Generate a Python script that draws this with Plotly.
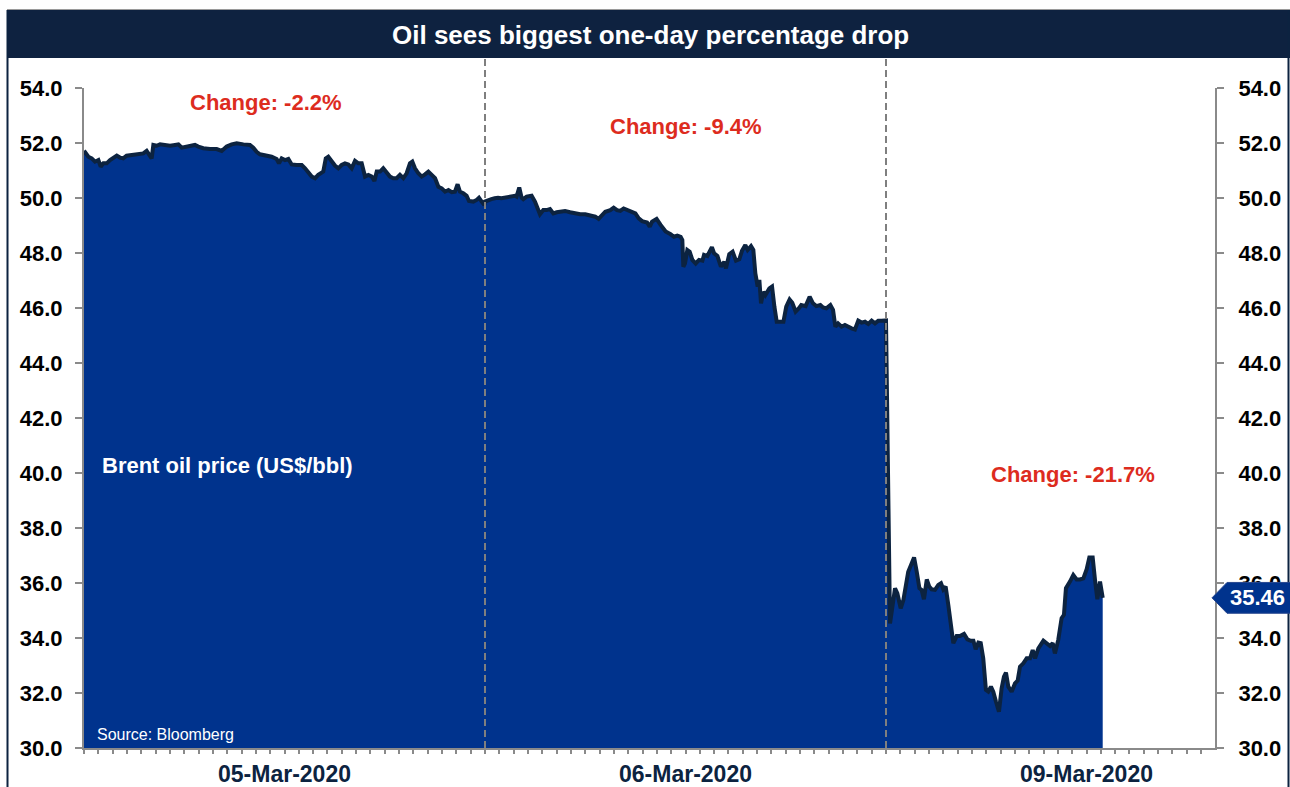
import plotly.graph_objects as go

# ---------------- data (hours into each trading session, Brent price) ----------------
day_labels = ["05-Mar-2020", "06-Mar-2020", "09-Mar-2020"]

day1_hours = [0.00, 0.26, 0.46, 0.66, 0.86, 1.00, 1.16, 1.36, 1.56, 1.76, 1.96, 2.15, 2.35, 2.55, 2.75,
              2.95, 3.25, 3.55, 3.75, 3.95, 4.05, 4.15, 4.35, 4.55, 4.85, 5.15, 5.45, 5.65, 5.85, 6.14,
              6.44, 6.64, 6.84, 7.14, 7.54, 7.94, 8.24, 8.54, 8.84, 9.14, 9.54, 9.93, 10.13, 10.33, 10.53,
              10.93, 11.23, 11.53, 11.67, 11.83, 12.03, 12.23, 12.43, 12.73, 13.03, 13.23, 13.43, 13.63,
              13.83, 14.02, 14.32, 14.47, 14.62, 14.82, 15.02, 15.22, 15.42, 15.62, 15.82, 16.02, 16.22,
              16.42, 16.62, 16.82, 17.02, 17.22, 17.38, 17.52, 17.72, 17.91, 18.11, 18.31, 18.51, 18.71,
              18.91, 19.11, 19.31, 19.51, 19.65, 19.81, 20.01, 20.21, 20.41, 20.61, 20.81, 21.01, 21.21,
              21.41, 21.61, 21.81, 22.01, 22.20, 22.36, 22.50, 22.70, 22.90, 23.04, 23.30, 23.50, 23.64,
              23.80, 23.96]
day1_price = [51.72, 51.50, 51.44, 51.32, 51.38, 51.14, 51.26, 51.26, 51.38, 51.47, 51.54, 51.47, 51.44,
              51.54, 51.56, 51.59, 51.60, 51.62, 51.71, 51.56, 51.44, 51.93, 51.90, 51.95, 51.93, 51.90,
              51.93, 51.95, 51.83, 51.87, 51.90, 51.93, 51.87, 51.81, 51.78, 51.78, 51.71, 51.87, 51.95,
              51.99, 51.95, 51.93, 51.83, 51.68, 51.59, 51.54, 51.50, 51.42, 51.26, 51.44, 51.38, 51.42,
              51.22, 51.20, 51.20, 51.08, 50.90, 50.78, 50.72, 50.84, 50.96, 51.44, 51.50, 51.32, 51.18,
              51.08, 51.20, 51.26, 51.22, 51.08, 51.35, 51.26, 51.26, 50.78, 50.84, 50.78, 50.62, 50.96,
              50.96, 51.08, 50.90, 50.78, 50.72, 50.72, 50.84, 50.72, 50.90, 51.26, 51.32, 51.08, 50.90,
              50.78, 50.86, 50.96, 50.84, 50.72, 50.41, 50.35, 50.23, 50.29, 50.21, 50.23, 50.50, 50.23,
              50.17, 50.08, 49.89, 49.87, 49.93, 50.01, 49.87, 49.75]

day2_hours = [0.00, 0.18, 0.38, 0.58, 0.78, 0.98, 1.18, 1.38, 1.58, 1.79, 1.89, 2.05, 2.19, 2.29, 2.49,
              2.79, 2.99, 3.13, 3.29, 3.49, 3.69, 3.89, 4.09, 4.29, 4.53, 4.79, 5.09, 5.40, 5.70, 6.00,
              6.30, 6.60, 6.80, 7.00, 7.20, 7.50, 7.70, 7.90, 8.10, 8.30, 8.50, 8.80, 9.00, 9.20, 9.40,
              9.70, 9.86, 10.00, 10.27, 10.51, 10.81, 11.11, 11.31, 11.51, 11.71, 11.81, 11.87, 11.97,
              12.11, 12.25, 12.41, 12.61, 12.81, 13.01, 13.11, 13.31, 13.58, 13.71, 13.91, 14.12, 14.32,
              14.42, 14.62, 14.82, 15.02, 15.22, 15.38, 15.58, 15.72, 15.92, 16.06, 16.18, 16.32, 16.42,
              16.52, 16.66, 16.78, 17.02, 17.18, 17.32, 17.46, 17.66, 17.86, 18.03, 18.23, 18.39, 18.59,
              18.79, 18.93, 19.19, 19.43, 19.63, 19.83, 20.07, 20.23, 20.43, 20.67, 20.83, 20.97, 21.13,
              21.34, 21.54, 21.74, 21.94, 22.14, 22.34, 22.54, 22.74, 22.94, 23.14, 23.34, 23.54, 23.74,
              23.94]
day2_price = [49.87, 49.93, 49.96, 49.99, 50.01, 49.99, 50.01, 50.01, 50.05, 50.08, 50.05, 50.38, 50.01,
              49.96, 50.05, 50.08, 49.87, 49.68, 49.41, 49.56, 49.56, 49.60, 49.44, 49.48, 49.50, 49.53,
              49.48, 49.44, 49.41, 49.41, 49.36, 49.32, 49.24, 49.36, 49.50, 49.56, 49.65, 49.56, 49.53,
              49.62, 49.56, 49.50, 49.44, 49.26, 49.16, 49.11, 48.96, 49.14, 49.24, 49.02, 48.78, 48.68,
              48.59, 48.63, 48.59, 48.47, 47.50, 47.62, 48.11, 48.05, 47.75, 47.62, 47.75, 47.72, 47.93,
              47.89, 48.21, 47.99, 47.89, 47.50, 47.68, 47.44, 47.96, 48.05, 47.72, 47.77, 48.08, 48.29,
              48.11, 48.25, 48.11, 47.26, 46.78, 47.02, 46.17, 46.59, 46.47, 46.71, 46.78, 46.05, 45.50,
              45.50, 45.50, 46.05, 46.31, 46.19, 45.87, 45.99, 46.11, 46.07, 46.41, 46.17, 46.07, 46.11,
              46.02, 45.99, 46.11, 45.93, 45.32, 45.44, 45.32, 45.38, 45.30, 45.26, 45.22, 45.54, 45.47,
              45.50, 45.42, 45.54, 45.44, 45.54, 45.54, 45.54]

day3_hours = [0.00, 0.24, 0.40, 0.54, 0.68, 0.88, 1.04, 1.20, 1.33, 1.54, 1.68, 1.84, 2.00, 2.13, 2.27,
              2.44, 2.59, 2.73, 2.93, 3.13, 3.29, 3.43, 3.57, 3.73, 3.87, 4.03, 4.23, 4.43, 4.67, 4.87,
              5.07, 5.23, 5.37, 5.53, 5.67, 5.82, 5.98, 6.12, 6.28, 6.42, 6.58, 6.76, 6.92, 7.06, 7.18,
              7.32, 7.52, 7.72, 7.88, 8.02, 8.22, 8.42, 8.62, 8.78, 8.92, 9.12, 9.42, 9.62, 9.82, 9.98,
              10.11, 10.31, 10.51, 10.65, 10.77, 11.01, 11.21, 11.41, 11.61, 11.81, 12.01, 12.17, 12.37,
              12.51, 12.65, 12.81, 12.97]
day3_price = [45.55, 34.53, 35.38, 35.81, 35.62, 35.08, 35.38, 35.99, 36.41, 36.72, 36.93, 36.41, 35.81,
              35.75, 35.41, 36.13, 35.87, 35.77, 35.75, 35.93, 35.99, 35.77, 35.87, 35.20, 34.53, 33.81,
              34.07, 34.07, 34.15, 33.95, 33.90, 33.90, 33.59, 33.83, 33.81, 33.26, 32.11, 32.05, 32.23,
              32.05, 31.69, 31.32, 32.17, 32.59, 32.74, 32.23, 32.05, 32.35, 32.45, 32.96, 33.08, 33.26,
              33.26, 33.56, 33.26, 33.62, 33.90, 33.81, 33.71, 33.81, 33.44, 33.93, 34.72, 34.84, 35.81,
              36.05, 36.29, 36.13, 36.13, 36.17, 36.50, 36.93, 36.93, 36.11, 35.41, 36.05, 35.46]

day_changes = ["Change: -2.2%", "Change: -9.4%", "Change: -21.7%"]
last_price = 35.46
y_ticks = [30, 32, 34, 36, 38, 40, 42, 44, 46, 48, 50, 52, 54]

# ---------------- build continuous series: x = session index + hour/24 ----------------
xs, ys = [], []
for i, (hrs, prc) in enumerate([(day1_hours, day1_price), (day2_hours, day2_price), (day3_hours, day3_price)]):
    xs += [i + h / 24.0 for h in hrs]
    ys += prc

NAVY = "#0c2340"
FILL = "#00338d"
GREY = "#8a8a8a"
RED = "#dd2c1e"
FONT = "Liberation Sans, Arial, sans-serif"

W, H = 1290, 787
L, R, T, B = 84, 75, 88, 39
pw, ph = W - L - R, H - T - B


def px(xp):
    return (xp - L) / pw


def py(yp):
    return (H - B - yp) / ph


XMAX = (W - R - L) / 401.0

fig = go.Figure()
fig.add_trace(go.Scatter(
    x=xs, y=ys, mode="lines", fill="tozeroy", fillcolor=FILL,
    line=dict(color=NAVY, width=4), hoverinfo="skip", showlegend=False))
fig.add_trace(go.Scatter(
    x=[xs[-1]], y=[ys[-1]], mode="markers", marker=dict(opacity=0), yaxis="y2",
    hoverinfo="skip", showlegend=False))

tickfont = dict(family=FONT, size=22, color="black", weight="bold")

fig.update_layout(
    width=W, height=H, margin=dict(l=L, r=R, t=T, b=B, autoexpand=False),
    paper_bgcolor="white", plot_bgcolor="white", showlegend=False,
    xaxis=dict(
        range=[0, XMAX], showgrid=False, zeroline=False, automargin=False,
        showline=True, linecolor=GREY, linewidth=2,
        tickmode="array", tickvals=[0.5, 1.5, 2.5], ticktext=day_labels,
        ticks="outside", ticklen=4, tickcolor=GREY, tickwidth=1.5,
        tickfont=dict(family=FONT, size=23, color=NAVY, weight="bold"),
        ticklabelstandoff=0,
        minor=dict(dtick=1 / 28, tick0=0, ticks="outside", ticklen=4, tickcolor=GREY, tickwidth=1.5,
                   showgrid=False),
    ),
    yaxis=dict(
        range=[30, 54], tickvals=y_ticks, tickformat=".1f", showgrid=False, zeroline=False,
        automargin=False, showline=True, linecolor=GREY, linewidth=2,
        ticks="outside", ticklen=7, tickcolor=GREY, tickwidth=1.5,
        tickfont=tickfont, ticklabelstandoff=8,
    ),
    yaxis2=dict(
        range=[30, 54], tickvals=y_ticks, tickformat=".1f", overlaying="y", side="right",
        showgrid=False, zeroline=False, automargin=False, showline=True, linecolor=GREY, linewidth=2,
        ticks="outside", ticklen=7, tickcolor=GREY, tickwidth=1.5,
        tickfont=tickfont, ticklabelstandoff=10,
    ),
)

shapes = []
# title bar
shapes.append(dict(type="rect", xref="paper", yref="paper", x0=px(7), x1=px(1295), y0=py(58), y1=py(10),
                   fillcolor="#0e2240", line=dict(width=0), layer="above"))
# top thin grey line
shapes.append(dict(type="line", xref="paper", yref="paper", x0=px(7), x1=px(1295), y0=py(9.5), y1=py(9.5),
                   line=dict(color="#9a9a9a", width=1)))
# left frame line
shapes.append(dict(type="line", xref="paper", yref="paper", x0=px(7.5), x1=px(7.5), y0=py(790), y1=py(10),
                   line=dict(color=NAVY, width=2)))
# right frame line
shapes.append(dict(type="line", xref="paper", yref="paper", x0=px(1288.5), x1=px(1288.5), y0=py(790), y1=py(10),
                   line=dict(color=NAVY, width=2)))
# session separators
for d in (1, 2):
    shapes.append(dict(type="line", xref="x", yref="paper", x0=d, x1=d, y0=0, y1=py(58),
                       line=dict(color="#7f7f7f", width=2, dash="7px,4px"), layer="above"))
# last-price arrow box
tip, bl, br = px(1212), px(1227), px(1295)
hh = 0.56
shapes.append(dict(type="path", xref="paper", yref="y",
                   path=f"M {tip},{last_price} L {bl},{last_price + hh} L {br},{last_price + hh} "
                        f"L {br},{last_price - hh} L {bl},{last_price - hh} Z",
                   fillcolor=FILL, line=dict(color="#27478f", width=1), layer="above"))
fig.update_layout(shapes=shapes)

ann = []
ann.append(dict(text="Oil sees biggest one-day percentage drop", xref="paper", yref="paper",
                x=px(650), y=py(35), showarrow=False, xanchor="center", yanchor="middle",
                font=dict(family=FONT, size=26, color="white", weight="bold")))
for txt, (cx, cy) in zip(day_changes, [(266, 103), (686, 126), (1073, 474)]):
    ann.append(dict(text=txt, xref="paper", yref="paper", x=px(cx), y=py(cy), showarrow=False,
                    xanchor="center", yanchor="middle",
                    font=dict(family=FONT, size=22, color=RED, weight="bold")))
ann.append(dict(text="Brent oil price (US$/bbl)", xref="paper", yref="paper", x=px(100), y=py(465),
                showarrow=False, xanchor="left", yanchor="middle",
                font=dict(family=FONT, size=22, color="white", weight="bold")))
ann.append(dict(text="Source: Bloomberg", xref="paper", yref="paper", x=px(95), y=py(734),
                showarrow=False, xanchor="left", yanchor="middle",
                font=dict(family=FONT, size=16, color="white")))
ann.append(dict(text=f"{last_price:.2f}", xref="paper", yref="y", x=px(1257), y=last_price,
                showarrow=False, xanchor="center", yanchor="middle",
                font=dict(family=FONT, size=22, color="white", weight="bold")))
fig.update_layout(annotations=ann)

fig.write_html("out.html")
